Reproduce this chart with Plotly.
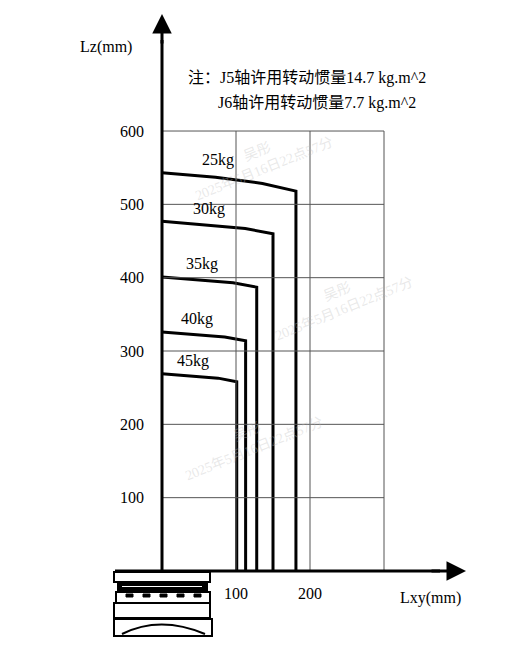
import plotly.graph_objects as go

# Data (mm)
loads = ["25kg", "30kg", "35kg", "40kg", "45kg"]
lz_start = [543, 477, 401, 326, 269]
lz_mid = [537, 472, 397, 322, 266]
lz_end = [518, 460, 387, 314, 258]
lxy_end = [181, 150, 128, 113, 101]
x_ticks = [100, 200]
y_ticks = [100, 200, 300, 400, 500, 600]

W, H = 507, 666
OFF = 8  # page body margin
OX, OY, SX, SY = 162 - OFF, 571 - OFF, 0.74, 0.7333
def dx(p): return (p - OFF - OX) / SX
def dy(p): return (OY - (p - OFF)) / SY

FS = 16
fig = go.Figure()
for g in [100, 200, 300]:
    fig.add_shape(type="line", x0=g, x1=g, y0=0, y1=600, line=dict(color="#555", width=1))
for g in y_ticks:
    fig.add_shape(type="line", x0=0, x1=300, y0=g, y1=g, line=dict(color="#555", width=1))

for i, name in enumerate(loads):
    xe = lxy_end[i]
    fig.add_trace(go.Scatter(
        x=[0, xe * 0.4, xe * 0.75, xe, xe],
        y=[lz_start[i], lz_mid[i], (lz_mid[i] + lz_end[i]) / 2 + 1, lz_end[i], 0],
        mode="lines", line=dict(color="black", width=3),
        showlegend=False, hoverinfo="skip"))
    fig.add_annotation(x=xe * 0.42, y=lz_start[i] + 2, text=name, showarrow=False,
                       yanchor="bottom", font=dict(size=FS))

fig.add_shape(type="line", x0=0, x1=0, y0=0, y1=dy(40), line=dict(color="black", width=3))
fig.add_annotation(x=0, y=dy(14), ax=0, ay=dy(45), xref="x", yref="y", axref="x", ayref="y",
                   showarrow=True, arrowhead=2, arrowsize=1.3, arrowwidth=3, arrowcolor="black", text="")
fig.add_shape(type="line", x0=dx(115), x1=dx(440), y0=0, y1=0, line=dict(color="black", width=3))
fig.add_annotation(x=dx(466), y=0, ax=dx(430), ay=0, xref="x", yref="y", axref="x", ayref="y",
                   showarrow=True, arrowhead=2, arrowsize=1.3, arrowwidth=3, arrowcolor="black", text="")

for t in y_ticks:
    fig.add_annotation(x=dx(146), y=t, text=str(t), showarrow=False, xanchor="right", font=dict(size=FS))
for t in x_ticks:
    fig.add_annotation(x=t, y=dy(593), text=str(t), showarrow=False, font=dict(size=FS))
fig.add_annotation(x=dx(106), y=dy(47), text="Lz(mm)", showarrow=False, font=dict(size=FS))
fig.add_annotation(x=dx(430), y=dy(598), text="Lxy(mm)", showarrow=False, font=dict(size=FS))
fig.add_annotation(x=dx(186), y=dy(78), text="注：J5轴许用转动惯量14.7 kg.m^2", showarrow=False, xanchor="left", font=dict(size=FS))
fig.add_annotation(x=dx(216), y=dy(103), text="J6轴许用转动惯量7.7 kg.m^2", showarrow=False, xanchor="left", font=dict(size=FS))

def rect(x0, y0, x1, y1, fill="white", w=2):
    fig.add_shape(type="rect", x0=dx(x0), x1=dx(x1), y0=dy(y0), y1=dy(y1),
                  line=dict(color="black", width=w), fillcolor=fill, layer="above")
rect(114, 572, 210, 582)
rect(118, 583, 207, 590, fill="black")
rect(121, 585, 203, 588)
rect(116, 592, 210, 603)
rect(114, 603, 210, 618)
rect(114, 619, 212, 636)
for k in range(5):
    rect(126 + k * 17, 594, 133 + k * 17, 597, fill="black", w=1)
fig.add_shape(type="path", path=f"M {dx(122)} {dy(634)} Q {dx(160)} {dy(615)} {dx(205)} {dy(634)}",
              line=dict(color="black", width=2), layer="above")

for (px, py) in [(260, 160), (250, 440), (340, 300)]:
    fig.add_annotation(x=dx(px), y=dy(py), text="吴彤<br>2025年5月16日22点57分", showarrow=False,
                       textangle=-22, font=dict(size=14, color="rgba(190,190,190,0.35)"))

fig.update_layout(
    width=W, height=H, margin=dict(l=0, r=0, t=0, b=0),
    plot_bgcolor="white", paper_bgcolor="white",
    font=dict(family="Liberation Serif, Noto Sans CJK SC", color="black", size=FS),
    xaxis=dict(range=[dx(OFF), dx(W + OFF)], visible=False, fixedrange=True),
    yaxis=dict(range=[dy(H + OFF), dy(OFF)], visible=False, fixedrange=True),
)
fig.write_html("out.html")
